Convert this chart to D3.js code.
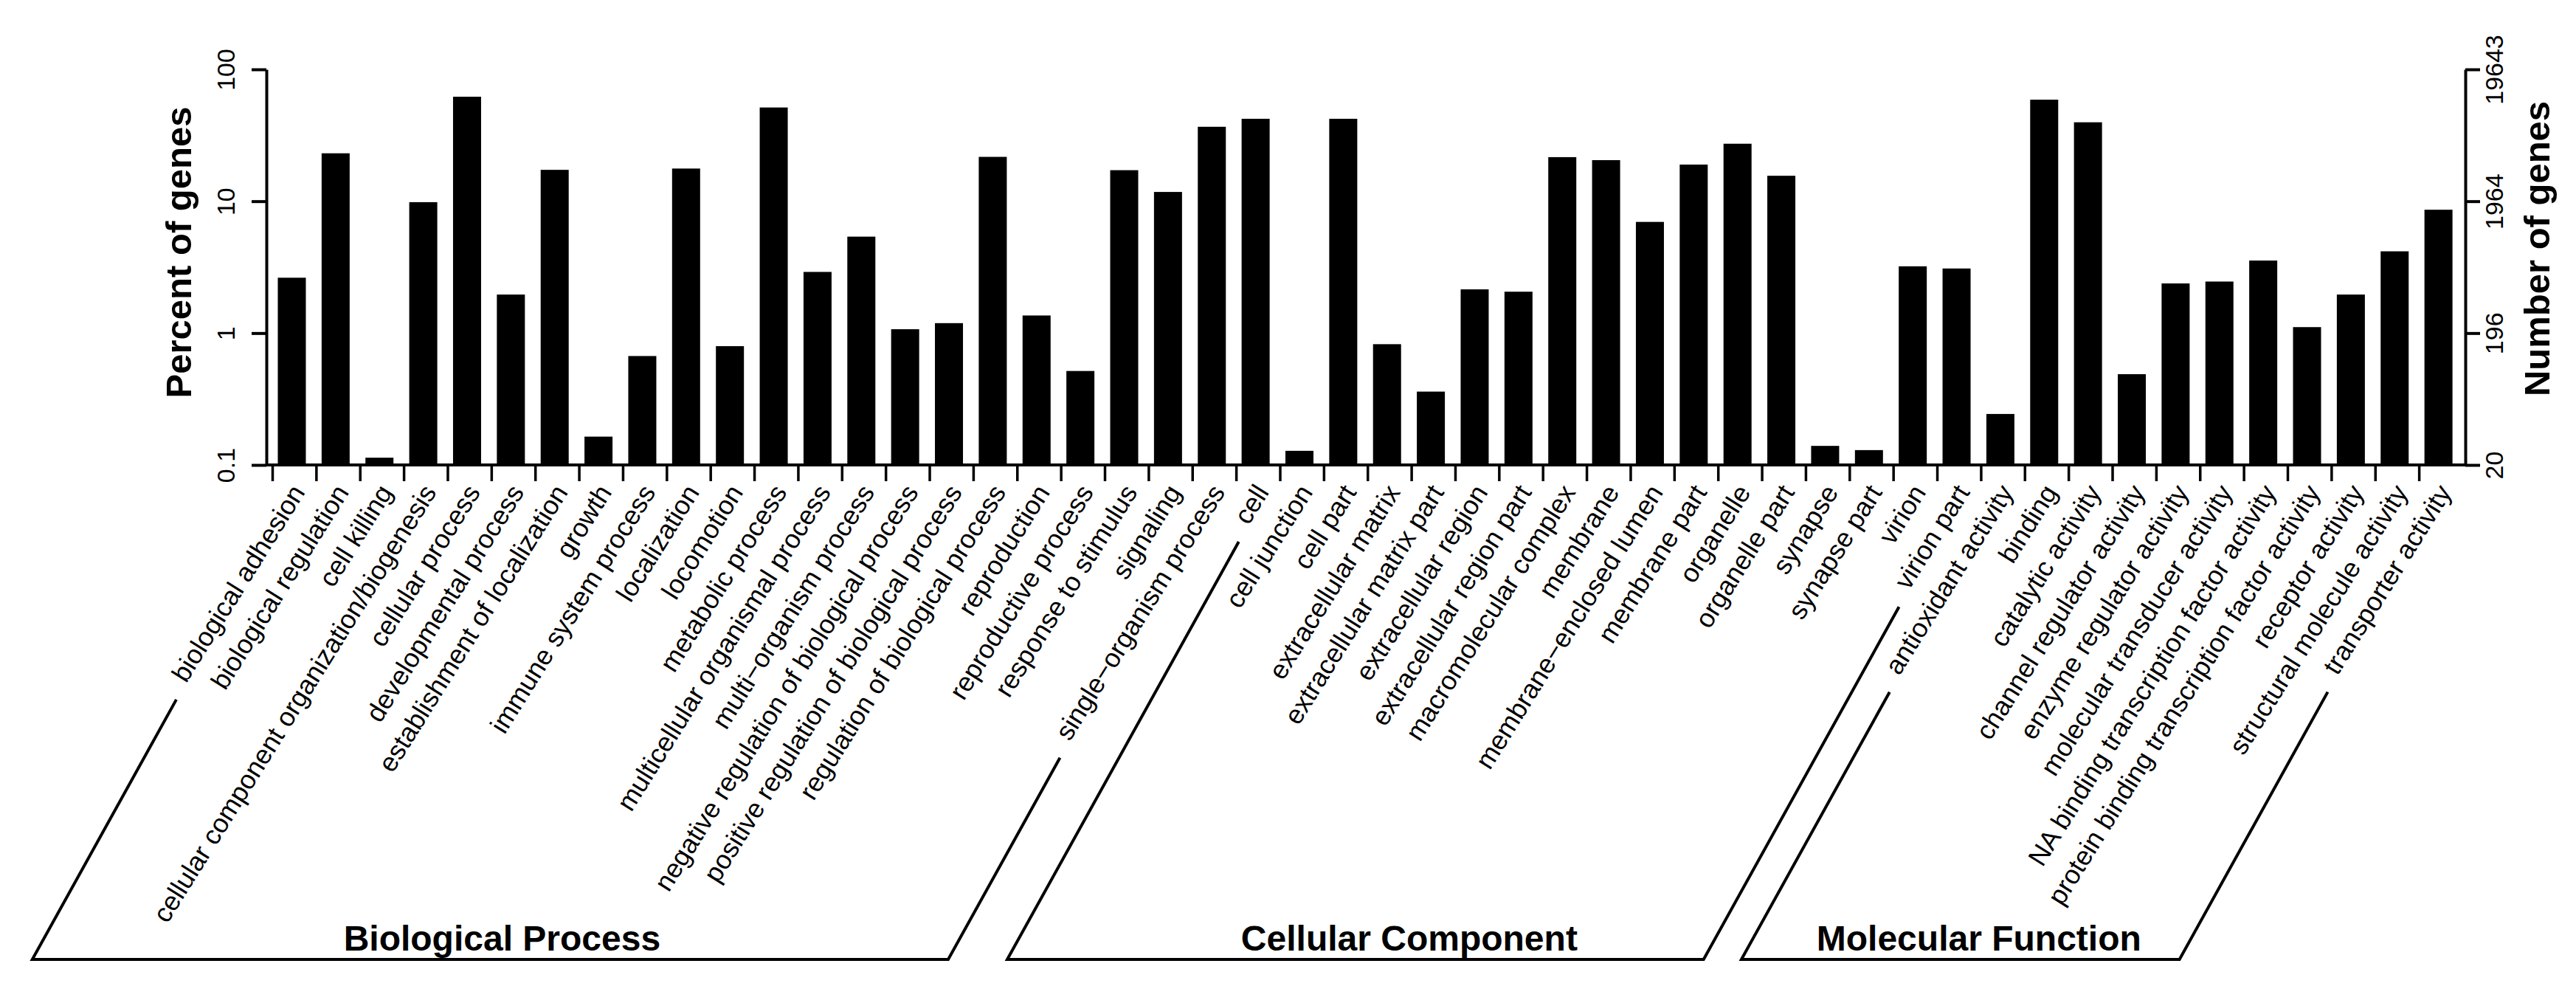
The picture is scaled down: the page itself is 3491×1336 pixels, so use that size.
<!DOCTYPE html>
<html>
<head>
<meta charset="utf-8">
<script src="https://cdn.jsdelivr.net/npm/d3@7"></script>
<style>
  html, body { margin: 0; padding: 0; background: #fff; }
  svg { display: block; font-family: "Liberation Sans", Arial, Helvetica, sans-serif; }
</style>
</head>
<body>
<svg id="chart" width="3491" height="1336"></svg>
<script>
// ---------------- data ----------------
const categories = [
  "biological adhesion", "biological regulation", "cell killing",
  "cellular component organization/biogenesis", "cellular process",
  "developmental process", "establishment of localization", "growth",
  "immune system process", "localization", "locomotion", "metabolic process",
  "multicellular organismal process", "multi\u2212organism process",
  "negative regulation of biological process", "positive regulation of biological process",
  "regulation of biological process", "reproduction", "reproductive process",
  "response to stimulus", "signaling", "single\u2212organism process",
  "cell", "cell junction", "cell part", "extracellular matrix",
  "extracellular matrix part", "extracellular region", "extracellular region part",
  "macromolecular complex", "membrane", "membrane\u2212enclosed lumen", "membrane part",
  "organelle", "organelle part", "synapse", "synapse part", "virion", "virion part",
  "antioxidant activity", "binding", "catalytic activity", "channel regulator activity",
  "enzyme regulator activity", "molecular transducer activity",
  "NA binding transcription factor activity", "protein binding transcription factor activity",
  "receptor activity", "structural molecule activity", "transporter activity"
];
const percentValues = [
  2.63, 23.1, 0.1135, 9.84, 62, 1.96, 17.3, 0.164, 0.67, 17.7, 0.796, 51.4,
  2.91, 5.39, 1.07, 1.19, 21.7, 1.36, 0.516, 17.2, 11.76, 36.7,
  42.2, 0.128, 42.2, 0.824, 0.36, 2.146, 2.06, 21.6, 20.5, 6.97, 18.97,
  27.3, 15.6, 0.1395, 0.1296, 3.21, 3.09,
  0.2436, 58.9, 39.7, 0.488, 2.38, 2.46, 3.55, 1.11, 1.96, 4.17, 8.62
];
const groupNames = ["Biological Process", "Cellular Component", "Molecular Function"];
const groupSizes = [22, 17, 11];
const leftTickValues = [0.1, 1, 10, 100];
const leftTickLabels = ["0.1", "1", "10", "100"];
const rightTickLabels = ["20", "196", "1964", "19643"];
const totalGenes = 19643;
const leftTitle = "Percent of genes";
const rightTitle = "Number of genes";

// ---------------- layout ----------------
const L = {
  axisLeftX: 361, axisRightX: 3341, yTop: 94, yBottom: 630,
  bandStart: 365.8, bandEnd: 3334.3, padding: 0.36,
  tickLen: 20, labelAngle: 58, bracketAngle: 61,
  labelDx: 19, labelY: 667, labelFont: 36, bracketGap: 25, bracketY: 1300,
  groupLabelY: 1288, groupLabelShift: [16, 73, 25]
};

const svg = d3.select("#chart");
svg.append("rect").attr("width", 3491).attr("height", 1336).attr("fill", "#fff");

const x = d3.scaleBand().domain(categories)
  .range([L.bandStart, L.bandEnd]).paddingInner(L.padding).paddingOuter(L.padding / 2);
const yL = d3.scaleLog().domain([0.1, 100]).range([L.yBottom, L.yTop]);
const yR = d3.scaleLog().domain([totalGenes / 1000, totalGenes]).range([L.yBottom, L.yTop]);

const data = categories.map((c, i) => ({ c, v: percentValues[i] }));

// bars
svg.append("g").selectAll("rect").data(data).join("rect")
  .attr("x", d => x(d.c))
  .attr("width", x.bandwidth())
  .attr("y", d => yL(d.v))
  .attr("height", d => yL(0.1) - yL(d.v))
  .attr("fill", "#000");

// left axis
const gl = svg.append("g").attr("transform", `translate(${L.axisLeftX},0)`)
  .call(d3.axisLeft(yL).tickValues(leftTickValues).tickSize(L.tickLen).tickSizeOuter(0)
    .tickFormat((d, i) => leftTickLabels[i]));
gl.select(".domain").attr("stroke-width", 4).attr("stroke", "#000");
gl.selectAll(".tick line").attr("stroke-width", 4).attr("stroke", "#000");
gl.selectAll(".tick text")
  .attr("x", null).attr("dy", null)
  .attr("transform", "translate(-43,0) rotate(-90)")
  .attr("text-anchor", "middle")
  .attr("font-size", 34).attr("fill", "#000")
  .style("font-family", "Liberation Sans, Arial, sans-serif");

// right axis
const rightTickValues = leftTickValues.map(v => v / 100 * totalGenes);
const gr = svg.append("g").attr("transform", `translate(${L.axisRightX},0)`)
  .call(d3.axisRight(yR).tickValues(rightTickValues).tickSize(L.tickLen).tickSizeOuter(0)
    .tickFormat((d, i) => rightTickLabels[i]));
gr.select(".domain").attr("stroke-width", 4).attr("stroke", "#000");
gr.selectAll(".tick line").attr("stroke-width", 4).attr("stroke", "#000");
gr.selectAll(".tick text")
  .attr("x", null).attr("dy", null)
  .attr("transform", "translate(51,0) rotate(-90)")
  .attr("text-anchor", "middle")
  .attr("font-size", 34).attr("fill", "#000")
  .style("font-family", "Liberation Sans, Arial, sans-serif");

// bottom axis line + ticks
svg.append("line")
  .attr("x1", L.axisLeftX).attr("x2", L.axisRightX)
  .attr("y1", L.yBottom).attr("y2", L.yBottom)
  .attr("stroke", "#000").attr("stroke-width", 4);
svg.append("g").selectAll("line").data(categories).join("line")
  .attr("x1", d => x(d) - 7).attr("x2", d => x(d) - 7)
  .attr("y1", L.yBottom).attr("y2", L.yBottom + L.tickLen + 2)
  .attr("stroke", "#000").attr("stroke-width", 3.5);

// axis titles
svg.append("text")
  .attr("transform", `translate(259,342) rotate(-90)`)
  .attr("text-anchor", "middle").attr("font-size", 49).attr("font-weight", "bold")
  .text(leftTitle);
svg.append("text")
  .attr("transform", `translate(3455,337) rotate(-90)`)
  .attr("text-anchor", "middle").attr("font-size", 49).attr("font-weight", "bold")
  .text(rightTitle);

// category labels
const a = L.labelAngle * Math.PI / 180;
const dir = [Math.cos(a), -Math.sin(a)];
const anchorOf = d => [x(d) + x.bandwidth() / 2 + L.labelDx, L.labelY];
const labels = svg.append("g").selectAll("text").data(categories).join("text")
  .attr("transform", d => { const p = anchorOf(d); return `translate(${p[0]},${p[1]}) rotate(${-L.labelAngle})`; })
  .attr("text-anchor", "end")
  .attr("font-size", L.labelFont)
  .attr("fill", "#000")
  .text(d => d);

const lengths = [];
labels.each(function () { lengths.push(this.getComputedTextLength()); });

// group brackets
const b = L.bracketAngle * Math.PI / 180;
let start = 0;
const brackets = svg.append("g");
groupNames.forEach((name, gi) => {
  const f = start, l = start + groupSizes[gi] - 1;
  start += groupSizes[gi];
  const topPt = i => {
    const e = anchorOf(categories[i]);
    const len = lengths[i] + L.bracketGap;
    return [e[0] - len * dir[0], e[1] - len * dir[1]];
  };
  const pf = topPt(f), pl = topPt(l);
  const bf = pf[0] - (L.bracketY - pf[1]) / Math.tan(b);
  const bl = pl[0] - (L.bracketY - pl[1]) / Math.tan(b);
  const path = d3.path();
  path.moveTo(pf[0], pf[1]);
  path.lineTo(bf, L.bracketY);
  path.lineTo(bl, L.bracketY);
  path.lineTo(pl[0], pl[1]);
  brackets.append("path").attr("d", path.toString())
    .attr("fill", "none").attr("stroke", "#000").attr("stroke-width", 4)
    .attr("stroke-linejoin", "miter");
  brackets.append("text")
    .attr("x", (bf + bl) / 2 + L.groupLabelShift[gi]).attr("y", L.groupLabelY)
    .attr("text-anchor", "middle").attr("font-size", 48).attr("font-weight", "bold")
    .text(name);
});
</script>
</body>
</html>
